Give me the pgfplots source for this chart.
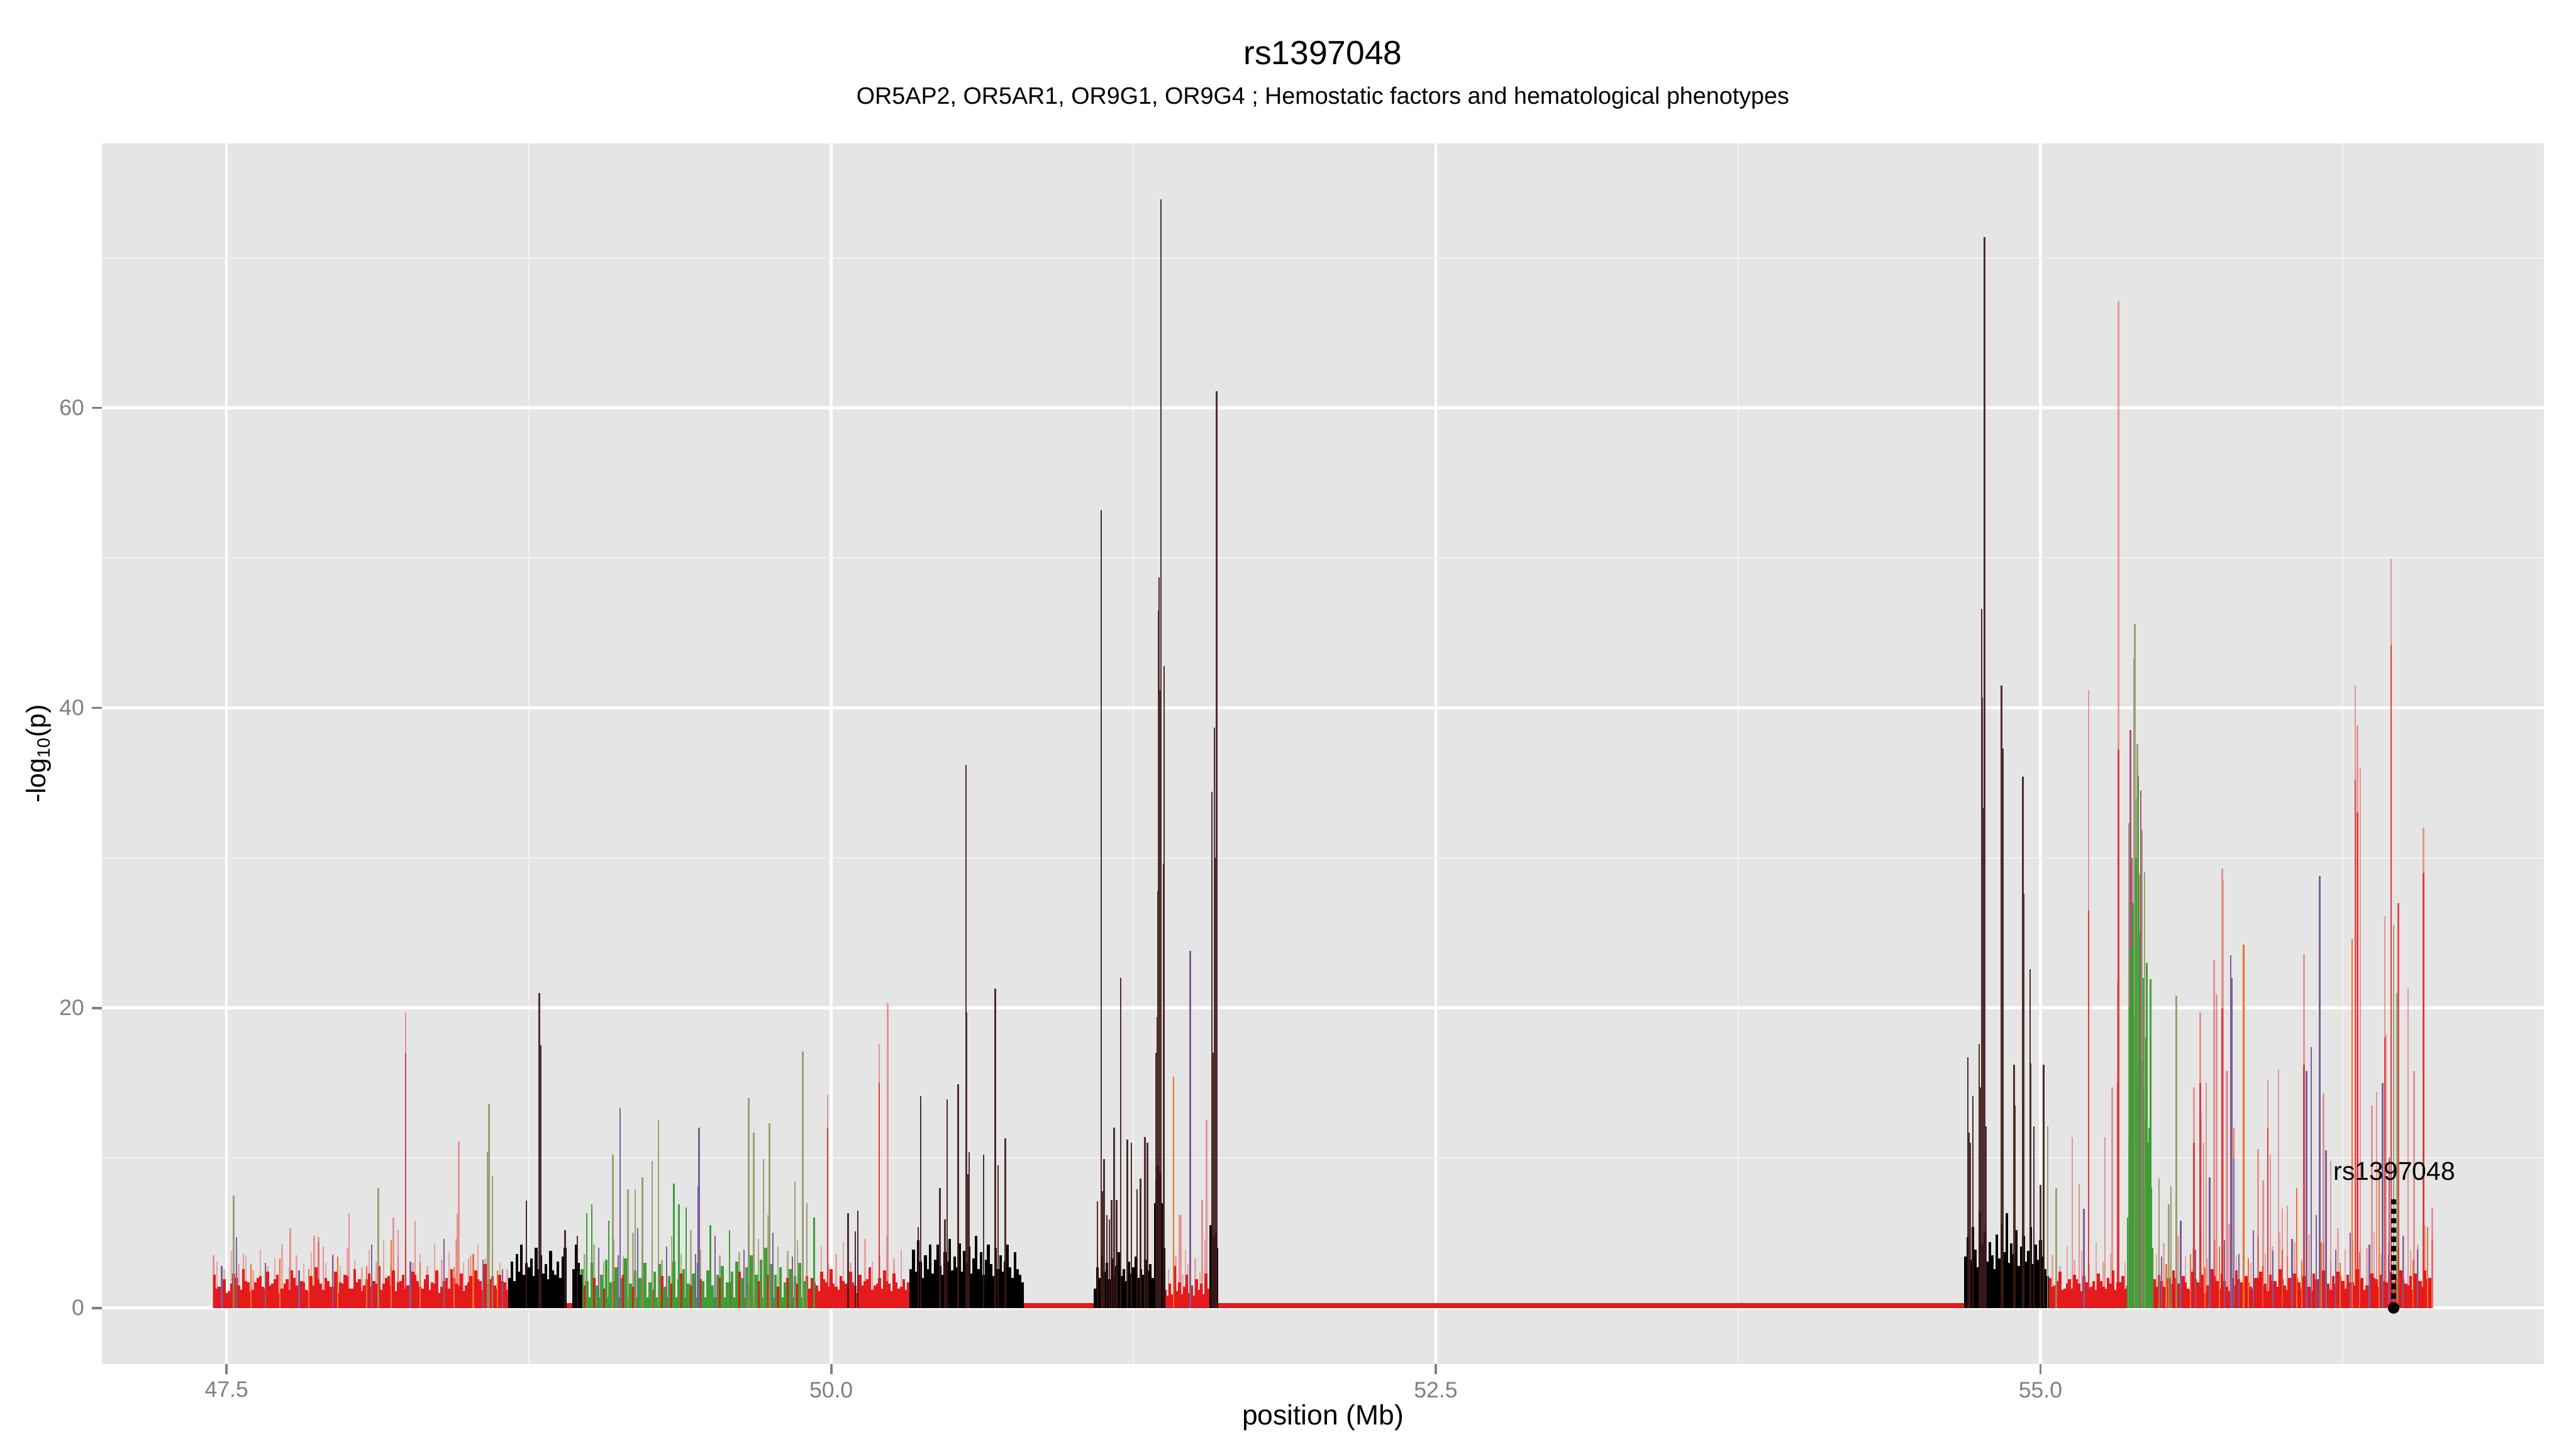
\documentclass[border=0pt]{standalone}
\usepackage{fontspec}
\setmainfont{Liberation Sans}
\usepackage{pgfplots}
\pgfplotsset{compat=1.18}
\definecolor{panel}{HTML}{E5E5E5}
\definecolor{minorg}{HTML}{F2F2F2}
\definecolor{tickgrey}{HTML}{7F7F7F}
\definecolor{setred}{HTML}{E41A1C}
\definecolor{paler}{HTML}{E9A3A4}
\definecolor{orng}{HTML}{F07028}
\definecolor{purp}{HTML}{7A5E96}
\definecolor{magen}{HTML}{B0507E}
\definecolor{olive}{HTML}{8E9460}
\definecolor{grn}{HTML}{3E9E36}
\definecolor{dark}{HTML}{3E1A1A}
\begin{document}
\begin{tikzpicture}
\useasboundingbox (-45.6pt,-37.92pt) rectangle (1106.4pt,610.08pt);
\begin{axis}[
  at={(0pt,0pt)}, anchor=south west,
  scale only axis, width=1092pt, height=546pt,
  xmin=46.985, xmax=57.081, ymin=-3.757, ymax=77.64,
  axis background/.style={fill=panel},
  axis line style={draw=none},
  xtick={47.5,50,52.5,55}, xticklabels={47.5,50.0,52.5,55.0},
  minor xtick={48.75,51.25,53.75,56.25},
  ytick={0,20,40,60}, minor ytick={10,30,50,70},
  grid=both,
  major grid style={white, line width=1.2pt},
  minor grid style={minorg, line width=0.6pt},
  tick align=outside, major tick length=4.4pt, minor tick length=0pt,
  xtick pos=left, ytick pos=left,
  tick style={draw=tickgrey, line width=1.1pt},
  tick label style={text=tickgrey, font=\fontsize{10}{12}\selectfont},
  /pgf/number format/assume math mode=true,
  xlabel={position (Mb)},
  ylabel={-log\textsubscript{10}(p)},
  xlabel style={at={(axis description cs:0.5,-0.0435)}, anchor=center, font=\fontsize{12.5}{15}\selectfont},
  ylabel style={at={(axis description cs:-0.0258,0.5)}, anchor=center, font=\fontsize{12}{14}\selectfont},
  every axis plot/.append style={line cap=butt},
]
% baseline
\addplot[setred, line width=2.2pt] coordinates {(47.447,0.15)(56.62,0.15)};
% base bands
\addplot[fill=setred, draw=none] coordinates {(47.447,0)(47.447,0.8)(48.67,0.8)(48.67,0)} \closedcycle;
\addplot[fill=setred, draw=none] coordinates {(49.90,0)(49.90,0.8)(50.33,0.8)(50.33,0)} \closedcycle;
\addplot[fill=setred, draw=none] coordinates {(51.378,0)(51.378,0.6)(51.569,0.6)(51.569,0)} \closedcycle;
\addplot[fill=setred, draw=none] coordinates {(55.03,0)(55.03,0.8)(55.365,0.8)(55.365,0)} \closedcycle;
\addplot[fill=setred, draw=none] coordinates {(55.46,0)(55.46,0.8)(56.62,0.8)(56.62,0)} \closedcycle;
\addplot[fill=grn, draw=none] coordinates {(48.97,0)(48.97,0.7)(49.90,0.7)(49.90,0)} \closedcycle;
\addplot[fill=black, draw=none] coordinates {(48.67,0)(48.67,1.2)(48.906,1.2)(48.906,0)} \closedcycle;
\addplot[fill=black, draw=none] coordinates {(48.932,0)(48.932,1.2)(48.968,1.2)(48.968,0)} \closedcycle;
\addplot[fill=black, draw=none] coordinates {(50.33,0)(50.33,1.4)(50.79,1.4)(50.79,0)} \closedcycle;
\addplot[fill=black, draw=none] coordinates {(51.093,0)(51.093,1.2)(51.378,1.2)(51.378,0)} \closedcycle;
\addplot[fill=black, draw=none] coordinates {(51.569,0)(51.569,1.4)(51.598,1.4)(51.598,0)} \closedcycle;
\addplot[fill=black, draw=none] coordinates {(54.693,0)(54.693,1.6)(55.026,1.6)(55.026,0)} \closedcycle;
\addplot[fill=grn, draw=none] coordinates {(55.365,0)(55.365,5)(55.457,5)(55.457,0)} \closedcycle;
% pale pink noise
\addplot[ycomb, paler, line width=0.7pt] coordinates {(47.46,3.1)(47.49,2.6)(47.52,3.8)(47.55,2.9)(47.58,3.4)(47.61,2.5)(47.64,3.9)(47.67,2.8)(47.70,3.3)(47.73,4.2)(47.76,2.7)(47.79,3.5)(47.82,2.9)(47.85,3.7)(47.88,4.4)(47.91,3.0)(47.94,3.6)(47.97,2.8)(48.00,4.0)(48.03,3.2)(48.06,2.7)(48.09,3.9)(48.12,3.1)(48.15,4.5)(48.18,2.9)(48.21,3.4)(48.24,4.1)(48.27,3.0)(48.30,3.6)(48.33,2.8)(48.36,4.3)(48.39,3.2)(48.42,3.7)(48.45,4.6)(48.48,3.0)(48.51,3.5)(48.54,4.2)(48.57,3.3)(48.60,3.8)(48.63,3.0)(48.66,2.6)
(49.93,3.2)(49.96,4.1)(49.99,2.9)(50.02,3.6)(50.05,4.4)(50.08,3.0)(50.11,3.8)(50.14,4.6)(50.17,3.1)(50.20,3.5)(50.23,4.8)(50.26,3.3)(50.29,3.9)
(51.395,2.6)(51.425,3.5)(51.455,2.2)(51.465,3.9)(51.475,2.9)(51.505,3.3)(51.525,2.4)(51.545,4.5)
(55.05,3.5)(55.08,2.8)(55.11,4.1)(55.14,3.2)(55.17,3.8)(55.20,2.9)(55.23,4.4)(55.26,3.1)(55.29,3.6)(55.32,4.0)(55.35,3.0)
(55.48,3.6)(55.51,4.3)(55.54,3.1)(55.57,4.8)(55.60,3.4)(55.63,4.0)(55.66,5.2)(55.69,3.3)(55.72,4.5)(55.75,3.8)(55.78,5.6)(55.81,3.5)(55.84,4.2)(55.87,3.0)(55.90,4.7)(55.93,3.6)(55.96,4.1)(55.99,5.0)(56.02,3.4)(56.05,4.4)(56.08,3.2)(56.11,4.9)(56.14,3.7)(56.17,4.3)(56.20,3.1)(56.23,5.3)(56.26,3.9)(56.29,4.6)(56.32,3.5)(56.35,4.0)(56.38,5.1)(56.41,3.6)(56.44,4.4)(56.47,3.3)(56.50,4.8)(56.53,3.9)(56.56,4.2)(56.59,5.5)(56.62,4.6)};
% olive pale noise in green region
\addplot[ycomb, olive, opacity=0.7, line width=0.7pt] coordinates {(48.98,3.6)(49.02,4.2)(49.06,3.1)(49.10,4.6)(49.14,3.4)(49.18,5.0)(49.22,3.8)(49.26,4.4)(49.30,3.2)(49.34,4.8)(49.38,3.6)(49.42,5.2)(49.46,3.9)(49.50,4.3)(49.54,3.5)(49.58,4.9)(49.62,3.7)(49.66,5.5)(49.70,4.6)(49.74,6.2)(49.78,4.1)(49.82,3.8)(49.86,4.5)};
% red noise
\addplot[ycomb, setred, line width=1.3pt] coordinates {(47.45,2.2)(47.47,1.4)(47.49,1.9)(47.51,1.1)(47.53,2.3)(47.55,1.5)(47.57,2.6)(47.59,1.7)(47.61,1.2)(47.63,2.0)(47.65,1.4)(47.67,2.4)(47.69,1.6)(47.71,2.2)(47.73,1.3)(47.75,1.9)(47.77,2.5)(47.79,1.5)(47.81,1.8)(47.83,1.2)(47.85,2.1)(47.87,2.7)(47.89,1.6)(47.91,2.0)(47.93,1.4)(47.95,2.4)(47.97,1.7)(47.99,2.2)(48.01,1.3)(48.03,2.6)(48.05,1.9)(48.07,1.5)(48.09,2.3)(48.11,1.8)(48.13,2.8)(48.15,1.6)(48.17,2.1)(48.19,2.5)(48.21,1.7)(48.23,2.2)(48.25,1.5)(48.27,2.4)(48.29,1.8)(48.31,1.3)(48.33,2.2)(48.35,1.7)(48.37,2.5)(48.39,1.4)(48.41,2.0)(48.43,2.6)(48.45,1.6)(48.47,2.3)(48.49,1.5)(48.51,2.1)(48.53,2.5)(48.55,1.8)(48.57,2.9)(48.59,1.9)(48.61,1.5)(48.63,2.2)(48.65,1.7)
(48.98,1.5)(49.02,2.0)(49.06,1.3)(49.10,1.8)(49.14,2.2)(49.18,1.4)(49.22,1.9)(49.26,1.2)(49.30,2.1)(49.34,1.6)(49.38,2.3)(49.42,1.5)(49.46,1.9)(49.50,1.3)(49.54,2.0)(49.58,1.7)(49.62,2.4)(49.66,1.5)(49.70,1.8)(49.74,2.2)(49.78,1.4)(49.82,2.0)(49.86,1.6)(49.90,2.1)
(49.92,2.0)(49.94,1.5)(49.96,2.4)(49.98,1.7)(50.00,2.6)(50.02,1.4)(50.04,2.1)(50.06,1.6)(50.08,2.4)(50.10,1.5)(50.12,2.2)(50.14,1.8)(50.16,2.7)(50.18,1.5)(50.20,2.0)(50.22,2.5)(50.24,1.6)(50.26,2.3)(50.28,1.3)(50.30,1.9)(50.32,1.7)
(51.38,1.2)(51.39,0.8)(51.40,1.6)(51.41,0.9)(51.42,2.8)(51.43,1.1)(51.44,1.7)(51.45,0.9)(51.46,1.4)(51.47,2.2)(51.48,1.0)(51.49,1.5)(51.50,0.8)(51.51,1.9)(51.52,1.2)(51.53,1.6)(51.54,0.9)(51.55,2.3)(51.56,1.3)
(55.04,2.0)(55.06,1.5)(55.08,2.4)(55.10,1.3)(55.12,1.9)(55.14,2.2)(55.16,1.6)(55.18,2.1)(55.20,1.3)(55.22,1.8)(55.24,2.3)(55.26,1.4)(55.28,2.0)(55.30,2.5)(55.32,1.7)(55.34,2.1)(55.36,1.5)
(55.47,1.9)(55.49,2.2)(55.51,1.4)(55.53,2.0)(55.55,2.5)(55.57,1.6)(55.59,2.1)(55.61,1.3)(55.63,2.4)(55.65,1.7)(55.67,2.2)(55.69,1.5)(55.71,2.6)(55.73,1.8)(55.75,2.3)(55.77,1.4)(55.79,2.0)(55.81,2.5)(55.83,1.7)(55.85,2.1)(55.87,1.4)(55.89,2.0)(55.91,2.4)(55.93,1.6)(55.95,2.2)(55.97,1.8)(55.99,2.6)(56.01,1.5)(56.03,2.0)(56.05,2.3)(56.07,1.7)(56.09,2.1)(56.11,1.4)(56.13,2.3)(56.15,1.9)(56.17,2.5)(56.19,1.6)(56.21,2.1)(56.23,2.4)(56.25,1.8)(56.27,2.2)(56.29,1.7)(56.31,2.6)(56.33,2.0)(56.35,1.5)(56.37,2.3)(56.39,1.9)(56.41,2.2)(56.43,1.7)(56.45,2.4)(56.47,2.0)(56.49,2.5)(56.51,1.6)(56.53,2.1)(56.55,2.3)(56.57,1.8)(56.59,2.5)(56.61,2.0)};
% interleaved red noise
\addplot[ycomb, setred, line width=1.1pt] coordinates {(47.46,1.3)(47.48,1.9)(47.50,1.0)(47.52,1.6)(47.54,2.0)(47.56,1.2)(47.58,1.8)(47.60,1.1)(47.62,1.7)(47.64,2.1)(47.66,1.3)(47.68,1.5)(47.70,1.9)(47.72,1.0)(47.74,1.6)(47.76,1.2)(47.78,2.0)(47.80,1.4)(47.82,1.7)(47.84,1.1)(47.86,1.5)(47.88,1.9)(47.90,1.2)(47.92,1.8)(47.94,1.4)(47.96,1.0)(47.98,1.6)(48.00,2.1)(48.02,1.3)(48.04,1.7)(48.06,1.1)(48.08,1.9)(48.10,1.4)(48.12,1.6)(48.14,1.2)(48.16,2.0)(48.18,1.5)(48.20,1.1)(48.22,1.8)(48.24,1.3)(48.26,1.7)(48.28,2.2)(48.30,1.4)(48.32,1.9)(48.34,1.2)(48.36,1.6)(48.38,1.0)(48.40,1.8)(48.42,1.3)(48.44,2.0)(48.46,1.5)(48.48,1.1)(48.50,1.7)(48.52,1.4)(48.54,1.9)(48.56,1.2)(48.58,1.6)(48.60,2.1)(48.62,1.3)(48.64,1.8)(48.66,1.2)
(49.91,1.3)(49.93,1.7)(49.95,1.1)(49.97,1.9)(49.99,1.4)(50.01,1.6)(50.03,1.2)(50.05,1.8)(50.07,1.3)(50.09,1.7)(50.11,1.0)(50.13,1.5)(50.15,1.9)(50.17,1.2)(50.19,1.6)(50.21,1.3)(50.23,1.8)(50.25,1.1)(50.27,1.7)(50.29,1.4)(50.31,1.2)
(55.05,1.4)(55.07,1.8)(55.09,1.2)(55.11,1.6)(55.13,1.3)(55.15,1.9)(55.17,1.1)(55.19,1.7)(55.21,1.4)(55.23,1.2)(55.25,1.8)(55.27,1.3)(55.29,1.6)(55.31,1.2)(55.33,1.7)(55.35,1.3)
(55.48,1.4)(55.50,1.8)(55.52,1.1)(55.54,1.6)(55.56,2.0)(55.58,1.3)(55.60,1.7)(55.62,1.2)(55.64,1.9)(55.66,1.4)(55.68,1.0)(55.70,1.6)(55.72,2.1)(55.74,1.3)(55.76,1.8)(55.78,1.1)(55.80,1.5)(55.82,1.9)(55.84,1.2)(55.86,1.7)(55.88,1.3)(55.90,2.0)(55.92,1.5)(55.94,1.1)(55.96,1.8)(55.98,1.4)(56.00,1.9)(56.02,1.2)(56.04,1.6)(56.06,2.0)(56.08,1.3)(56.10,1.7)(56.12,1.1)(56.14,1.9)(56.16,1.4)(56.18,1.8)(56.20,1.2)(56.22,1.6)(56.24,2.1)(56.26,1.3)(56.28,1.7)(56.30,1.5)(56.32,1.9)(56.34,1.2)(56.36,1.6)(56.38,2.0)(56.40,1.4)(56.42,1.8)(56.44,1.1)(56.46,1.7)(56.48,1.3)(56.50,1.9)(56.52,1.5)(56.54,1.2)(56.56,1.8)(56.58,1.4)(56.60,1.9)};
% green noise
\addplot[ycomb, grn, line width=1.3pt] coordinates {(48.97,2.6)(48.99,1.8)(49.01,3.0)(49.03,1.5)(49.05,2.2)(49.07,3.2)(49.09,1.7)(49.11,2.7)(49.13,2.0)(49.15,3.3)(49.17,1.6)(49.19,2.5)(49.21,2.0)(49.23,3.0)(49.25,1.7)(49.27,2.4)(49.29,2.9)(49.31,1.4)(49.33,2.1)(49.35,3.1)(49.37,1.9)(49.39,2.6)(49.41,1.6)(49.43,2.3)(49.45,3.0)(49.47,1.8)(49.49,2.5)(49.51,1.5)(49.53,2.2)(49.55,2.8)(49.57,1.7)(49.59,2.4)(49.61,3.1)(49.63,2.0)(49.65,2.7)(49.67,3.5)(49.69,2.2)(49.71,3.2)(49.73,4.0)(49.75,2.9)(49.77,2.2)(49.79,2.7)(49.81,1.7)(49.83,2.6)(49.85,2.1)(49.87,3.0)(49.89,1.8)
(55.364,6.0)(55.368,11.0)(55.372,9.0)(55.376,14.0)(55.380,10.5)(55.384,17.0)(55.388,12.0)(55.392,19.5)(55.396,13.5)(55.400,16.0)(55.404,11.5)(55.408,20.5)(55.412,13.0)(55.416,16.5)(55.420,10.0)(55.424,14.5)(55.428,9.0)(55.432,12.5)(55.436,8.0)(55.440,11.0)(55.444,7.0)(55.448,10.5)(55.452,6.0)(55.456,8.0)(55.460,4.0)};
% orange and purple accents
\addplot[ycomb, orng, line width=0.6pt] coordinates {(47.60,2.9)(47.72,3.3)(47.84,2.6)(47.96,3.4)(48.08,2.8)(48.18,4.5)(48.30,3.0)(48.44,2.7)(48.52,3.6)(48.62,2.5)(55.52,2.9)(55.62,3.6)(55.68,2.7)(55.74,4.1)(55.86,3.3)(55.92,2.8)(56.00,3.9)(56.08,3.1)(56.16,4.4)(56.24,3.0)(56.32,3.7)(56.40,2.9)(56.48,4.0)(56.54,3.2)(56.60,5.4)};
\addplot[ycomb, purp, line width=0.6pt] coordinates {(47.48,2.8)(47.54,4.7)(47.66,3.0)(47.80,2.5)(47.94,3.5)(48.10,4.2)(48.26,3.1)(48.40,4.6)(48.56,3.2)(48.64,2.6)(49.04,4.0)(49.12,3.5)(49.20,5.3)(49.32,4.1)(49.44,3.6)(49.52,4.8)(49.64,3.9)(49.76,5.0)(49.84,3.4)(55.50,3.4)(55.58,5.8)(55.64,3.9)(55.76,4.5)(55.82,3.6)(55.88,5.2)(55.96,3.8)(56.04,4.6)(56.14,6.2)(56.22,3.9)(56.28,5.0)(56.36,4.2)(56.44,3.5)(56.50,4.8)(56.56,3.9)};
% black noise
\addplot[ycomb, black, line width=1.2pt] coordinates {(48.67,2.0)(48.68,3.1)(48.69,1.8)(48.70,3.6)(48.71,2.4)(48.72,4.2)(48.73,2.2)(48.74,3.0)(48.75,2.7)(48.76,3.3)(48.77,2.1)(48.78,4.0)(48.79,2.6)(48.80,3.5)(48.81,2.3)(48.82,2.9)(48.83,1.9)(48.84,3.8)(48.85,2.5)(48.86,2.2)(48.87,3.1)(48.88,2.0)(48.89,3.4)(48.90,4.0)(48.935,2.6)(48.945,4.2)(48.955,3.0)(48.965,2.2)
(50.33,2.6)(50.34,3.9)(50.35,2.4)(50.36,4.5)(50.37,3.1)(50.38,2.0)(50.39,3.5)(50.40,2.6)(50.41,4.2)(50.42,2.3)(50.43,3.2)(50.44,4.2)(50.45,2.8)(50.46,2.2)(50.47,3.7)(50.48,3.1)(50.49,4.6)(50.50,2.5)(50.51,3.4)(50.52,2.7)(50.53,4.3)(50.54,2.4)(50.55,3.8)(50.56,3.0)(50.57,4.1)(50.58,2.3)(50.59,3.3)(50.60,4.8)(50.61,2.6)(50.62,3.7)(50.63,2.2)(50.64,3.2)(50.65,4.2)(50.66,2.9)(50.67,2.1)(50.68,4.0)(50.69,2.6)(50.70,3.5)(50.71,2.4)(50.72,3.1)(50.73,4.2)(50.74,2.7)(50.75,2.0)(50.76,3.7)(50.77,2.6)(50.78,2.2)(50.79,1.7)
(51.09,1.3)(51.10,2.7)(51.11,2.0)(51.12,3.5)(51.13,2.4)(51.14,3.0)(51.15,1.9)(51.16,3.3)(51.17,2.2)(51.18,2.8)(51.19,3.7)(51.20,2.1)(51.21,2.6)(51.22,1.8)(51.23,3.1)(51.24,2.3)(51.25,2.7)(51.26,3.4)(51.27,2.0)(51.28,2.6)(51.29,2.2)(51.30,3.2)(51.31,2.5)(51.32,2.9)(51.33,2.0)(51.34,7.0)(51.345,8.5)(51.35,9.5)(51.355,8.0)(51.36,9.0)(51.365,7.0)(51.37,3.0)(51.375,4.0)
(51.57,5.5)(51.575,4.2)(51.58,4.8)(51.585,3.6)(51.59,5.0)(51.595,4.0)
(54.69,3.4)(54.70,4.7)(54.71,3.2)(54.72,5.4)(54.73,3.9)(54.74,2.7)(54.75,6.4)(54.76,4.2)(54.77,5.1)(54.78,3.1)(54.79,4.4)(54.80,3.5)(54.81,2.6)(54.82,4.9)(54.83,3.3)(54.84,5.6)(54.85,3.7)(54.86,6.3)(54.87,3.0)(54.88,4.3)(54.89,3.6)(54.90,5.2)(54.91,2.8)(54.92,4.1)(54.93,4.8)(54.94,3.1)(54.95,3.8)(54.96,5.4)(54.97,2.9)(54.98,4.2)(54.99,3.2)(55.00,4.5)(55.01,3.4)(55.02,2.6)(55.03,2.1)};
% tall pale red spikes
\addplot[ycomb, setred, opacity=0.4, line width=0.7pt] coordinates {(47.446,3.5)(47.57,3.6)(47.763,5.3)(47.862,4.8)(47.88,4.7)(47.90,4.1)(48.006,6.3)(48.19,6.0)(48.21,5.2)(48.24,19.7)(48.28,5.8)(48.455,6.3)(48.46,11.1)(48.50,3.3)(49.986,14.2)(50.198,17.6)(50.234,20.3)(51.44,6.2)(51.446,6.2)(51.534,7.2)(51.552,12.5)(55.132,11.4)(55.16,8.3)(55.199,41.2)(55.266,11.4)(55.296,14.7)(55.32,21.7)(55.323,67.1)(55.634,14.7)(55.66,19.7)(55.665,13)(55.675,11)(55.685,15)(55.718,23.2)(55.728,20.9)(55.752,29.3)(55.755,28.5)(55.77,15.8)(55.773,15.8)(55.841,15.9)(55.90,10.6)(55.92,8.5)(55.94,15.2)(55.95,10.2)(55.984,15.9)(56.00,6.6)(56.02,6.8)(56.09,23.6)(56.17,14.3)(56.20,9.8)(56.302,41.5)(56.31,38.8)(56.322,36.0)(56.37,13.5)(56.39,14.4)(56.424,26.1)(56.427,18.2)(56.45,49.9)(56.52,21.3)(56.545,15.8)(56.584,32.0)(56.62,6.7)};
% stronger red parts
\addplot[ycomb, setred, opacity=0.75, line width=0.7pt] coordinates {(48.24,17)(49.986,12.0)(50.198,15.0)(55.199,26.5)(55.323,37.2)(56.45,44.2)(56.302,35.2)(56.31,33)(56.479,27)(56.584,29)(56.09,16.2)(55.66,15)(56.424,18)(55.752,20)(55.32,15)(55.634,11)(55.94,12)};
% orange
\addplot[ycomb, orng, line width=0.7pt] coordinates {(51.416,15.4)(55.84,24.2)(56.289,24.6)(56.40,9.5)(55.80,12.0)(56.06,8.0)};
% purple
\addplot[ycomb, purp, line width=0.7pt] coordinates {(49.127,13.3)(49.45,8.1)(49.454,12.0)(51.485,23.8)(55.18,6.6)(55.70,8.7)(55.787,23.5)(55.79,22.0)(55.80,9.9)(56.10,15.8)(56.12,17.4)(56.155,28.8)(56.18,10.5)(56.414,15.0)};
% magenta
\addplot[ycomb, magen, line width=0.7pt] coordinates {(55.372,38.5)(55.378,30.0)(55.415,34.5)(56.442,10.0)};
% olive
\addplot[ycomb, olive, opacity=0.85, line width=0.7pt] coordinates {(47.53,7.5)(48.127,8.0)(48.58,10.4)(48.585,13.6)(48.60,8.8)(49.098,10.2)(49.16,7.9)(49.19,7.9)(49.22,8.7)(49.26,9.8)(49.286,12.55)(49.659,14.0)(49.68,11.7)(49.72,9.9)(49.745,12.3)(49.85,8.4)(49.883,17.1)(49.90,7.0)(55.03,12.1)(55.065,8.0)(55.365,32.3)(55.387,43.3)(55.39,45.6)(55.392,44.6)(55.397,34)(55.40,37.6)(55.41,28.9)(55.42,31.9)(55.43,29.1)(55.49,8.6)(55.53,6.9)(55.54,8.1)(55.562,20.8)(56.46,25.5)(56.475,21)};
% green
\addplot[ycomb, grn, line width=0.7pt] coordinates {(48.99,6.3)(49.01,6.9)(49.08,5.8)(49.35,8.3)(49.37,6.9)(49.40,6.7)(49.50,5.5)(49.58,5.2)(49.93,6.0)(55.405,35.5)(55.44,23)(55.455,21.9)(55.45,12)(55.368,20)(55.375,24)(55.382,27)(55.395,30)(55.41,25)(55.425,22)(55.435,18)};
% dark (black cluster) spikes
\addplot[ycomb, dark, opacity=0.9, line width=0.7pt] coordinates {(48.74,7.15)(48.793,21.0)(48.80,17.5)(48.90,5.2)(48.95,4.8)(50.07,6.3)(50.10,5.1)(50.11,6.5)(50.36,5.4)(50.37,14.1)(50.45,8.0)(50.47,5.9)(50.48,13.9)(50.525,14.9)(50.557,36.2)(50.56,19.7)(50.565,8.9)(50.57,10.4)(50.63,10.2)(50.678,21.3)(50.68,18.8)(50.69,9.5)(50.72,11.3)(51.101,7.1)(51.117,53.2)(51.12,7.8)(51.128,9.9)(51.14,6.2)(51.15,5.9)(51.16,7.2)(51.17,12.0)(51.18,7.2)(51.197,22.0)(51.225,11.2)(51.241,11.0)(51.265,7.9)(51.279,8.6)(51.297,11.4)(51.308,11.0)(51.343,17.0)(51.349,19.4)(51.351,26.5)(51.352,27.8)(51.353,46.5)(51.356,48.7)(51.361,41.2)(51.363,73.9)(51.374,29.6)(51.376,42.8)(51.574,34.4)(51.578,11.0)(51.58,17.0)(51.585,38.7)(51.588,30.0)(51.591,18.0)(51.594,61.1)(54.70,16.7)(54.703,11.7)(54.71,11.0)(54.72,14.1)(54.746,17.6)(54.75,14.7)(54.757,46.6)(54.759,40.7)(54.766,33.3)(54.768,71.4)(54.77,71.0)(54.775,12.1)(54.839,41.5)(54.845,37.3)(54.891,16.2)(54.893,13.5)(54.927,35.4)(54.93,27.6)(54.957,22.6)(54.96,16.3)(54.973,12.1)(55.00,8.2)(55.013,16.2)};
% highlighted SNP
\addplot[black, line width=2pt, dash pattern=on 2.4pt off 1.8pt] coordinates {(56.46,0)(56.46,7.3)};
\addplot[only marks, mark=*, mark size=2.4pt, black] coordinates {(56.46,0)};
\node[font=\fontsize{11.5}{14}\selectfont] at (axis cs:56.464,9.1) {rs1397048};
\end{axis}
\node[font=\fontsize{15}{18}\selectfont] at (546pt,586.5pt) {rs1397048};
\node[font=\fontsize{10.6}{13}\selectfont] at (546pt,566.2pt) {OR5AP2, OR5AR1, OR9G1, OR9G4 ; Hemostatic factors and hematological phenotypes};
\end{tikzpicture}
\end{document}
